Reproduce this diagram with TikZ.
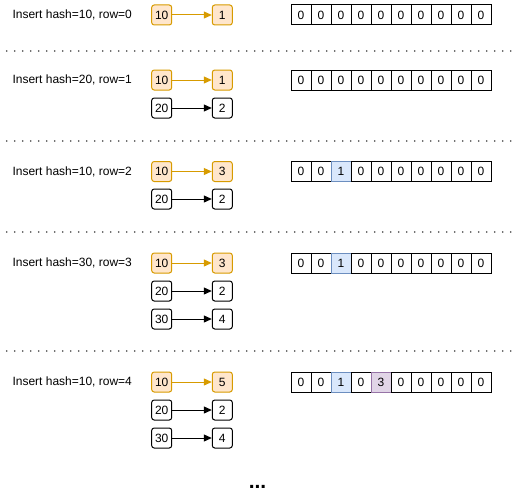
\documentclass[tikz,border=0pt]{standalone}
\usepackage{fontspec}
\setmainfont{Liberation Sans}
\usetikzlibrary{arrows.meta}
\definecolor{hitfill}{HTML}{FFE6CC}
\definecolor{hitdraw}{HTML}{D79B00}
\definecolor{onefill}{HTML}{DAE8FC}
\definecolor{onedraw}{HTML}{6C8EBF}
\definecolor{twofill}{HTML}{E1D5E7}
\definecolor{twodraw}{HTML}{9673A6}
\begin{document}
\begin{tikzpicture}[x=1pt,y=-1pt,
    txt/.style={font=\fontsize{12}{14}\selectfont},
    key/.style={txt, draw, line width=1pt, rounded corners=2.5pt, minimum size=20pt, inner sep=0pt},
    hit/.style={key, draw=hitdraw, fill=hitfill},
    cell/.style={txt, draw, line width=1pt, minimum size=20pt, inner sep=0pt},
    used/.style={cell, draw=onedraw, fill=onefill},
    again/.style={cell, draw=twodraw, fill=twofill},
    link/.style={line width=1pt, -{Triangle[length=8pt,width=7pt]}},
    hitlink/.style={link, draw=hitdraw, fill=hitdraw},
    sep/.style={line width=1.8pt, dash pattern=on 0pt off 8pt, line cap=round, black!75}]
    \useasboundingbox (0,0) rectangle (513,503);
    %% separators
    \foreach \y in {51,141,232,351}
        \draw[sep] (6.7,\y) -- (512,\y);
    %% row 0
    \node[txt, anchor=west] (lbl0) at (9,15) {Insert hash=10, row=0};
    \node[hit] (k0a) at (161.7,15) {10};
    \node[hit] (v0a) at (222.3,15) {1};
    \draw[hitlink] (k0a) -- (v0a);
    \foreach \v/\s [count=\i from 0] in {0/cell,0/cell,0/cell,0/cell,0/cell,0/cell,0/cell,0/cell,0/cell,0/cell}
        \node[\s] (a0c\i) at (301+20*\i,15) {\v};
    %% row 1
    \node[txt, anchor=west] (lbl1) at (9,80) {Insert hash=20, row=1};
    \node[hit] (k1a) at (161.7,80) {10};
    \node[hit] (v1a) at (222.3,80) {1};
    \node[key] (k1b) at (161.7,108) {20};
    \node[key] (v1b) at (222.3,108) {2};
    \draw[hitlink] (k1a) -- (v1a);
    \draw[link] (k1b) -- (v1b);
    \foreach \v/\s [count=\i from 0] in {0/cell,0/cell,0/cell,0/cell,0/cell,0/cell,0/cell,0/cell,0/cell,0/cell}
        \node[\s] (a1c\i) at (301+20*\i,80) {\v};
    %% row 2
    \node[txt, anchor=west] (lbl2) at (9,171.5) {Insert hash=10, row=2};
    \node[hit] (k2a) at (161.7,171.5) {10};
    \node[hit] (v2a) at (222.3,171.5) {3};
    \node[key] (k2b) at (161.7,199) {20};
    \node[key] (v2b) at (222.3,199) {2};
    \draw[hitlink] (k2a) -- (v2a);
    \draw[link] (k2b) -- (v2b);
    \foreach \v/\s [count=\i from 0] in {0/cell,0/cell,1/used,0/cell,0/cell,0/cell,0/cell,0/cell,0/cell,0/cell}
        \node[\s] (a2c\i) at (301+20*\i,171.5) {\v};
    %% row 3
    \node[txt, anchor=west] (lbl3) at (9,263) {Insert hash=30, row=3};
    \node[hit] (k3a) at (161.7,263) {10};
    \node[hit] (v3a) at (222.3,263) {3};
    \node[key] (k3b) at (161.7,291) {20};
    \node[key] (v3b) at (222.3,291) {2};
    \node[key] (k3c) at (161.7,319) {30};
    \node[key] (v3c) at (222.3,319) {4};
    \draw[hitlink] (k3a) -- (v3a);
    \draw[link] (k3b) -- (v3b);
    \draw[link] (k3c) -- (v3c);
    \foreach \v/\s [count=\i from 0] in {0/cell,0/cell,1/used,0/cell,0/cell,0/cell,0/cell,0/cell,0/cell,0/cell}
        \node[\s] (a3c\i) at (301+20*\i,263) {\v};
    %% row 4
    \node[txt, anchor=west] (lbl4) at (9,382) {Insert hash=10, row=4};
    \node[hit] (k4a) at (161.7,382) {10};
    \node[hit] (v4a) at (222.3,382) {5};
    \node[key] (k4b) at (161.7,410) {20};
    \node[key] (v4b) at (222.3,410) {2};
    \node[key] (k4c) at (161.7,438) {30};
    \node[key] (v4c) at (222.3,438) {4};
    \draw[hitlink] (k4a) -- (v4a);
    \draw[link] (k4b) -- (v4b);
    \draw[link] (k4c) -- (v4c);
    \foreach \v/\s [count=\i from 0] in {0/cell,0/cell,1/used,0/cell,3/again,0/cell,0/cell,0/cell,0/cell,0/cell}
        \node[\s] (a4c\i) at (301+20*\i,382) {\v};
    %% more
    \node[font=\fontsize{21}{21}\selectfont\bfseries] (more) at (257.5,487) {...};
\end{tikzpicture}
\end{document}
